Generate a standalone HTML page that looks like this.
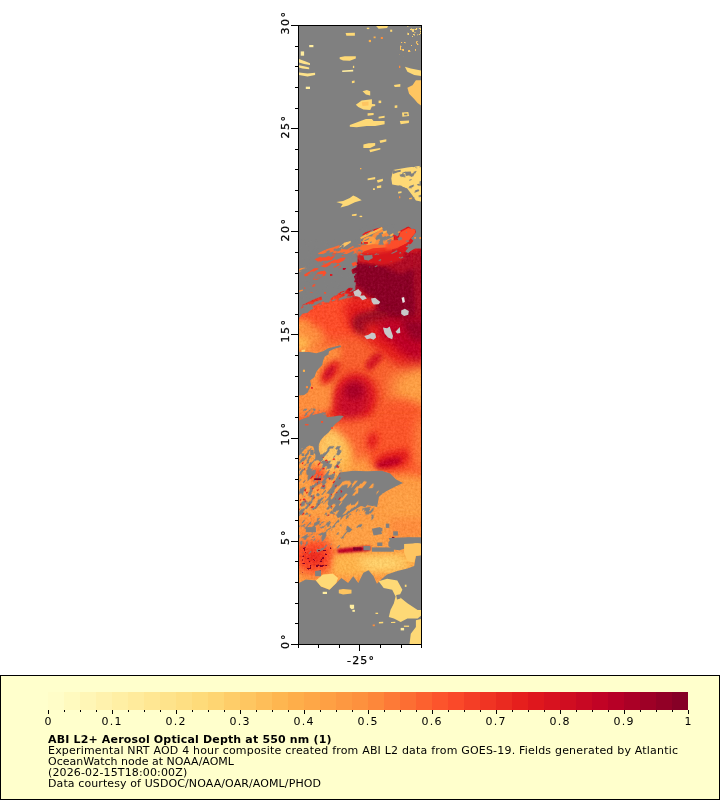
<!DOCTYPE html>
<html lang="en"><head><meta charset="utf-8"><title>ABI L2+ Aerosol Optical Depth at 550 nm</title>
<style>html,body{margin:0;padding:0;background:#fff}svg{display:block}text{font-family:"DejaVu Sans","Liberation Sans",sans-serif;font-size:11px;fill:#000}</style></head><body>
<svg width="720" height="800" viewBox="0 0 720 800">
<rect width="720" height="800" fill="#fff"/>
<g id="map">
<rect x="299" y="26" width="122" height="618" fill="#808080"/>
<defs><clipPath id="mc"><rect x="299" y="26" width="122" height="618"/></clipPath><filter id="bl1_0" x="-50%" y="-50%" width="200%" height="200%"><feGaussianBlur stdDeviation="1.0"/></filter><filter id="bl1_5" x="-50%" y="-50%" width="200%" height="200%"><feGaussianBlur stdDeviation="1.5"/></filter><filter id="bl2_0" x="-50%" y="-50%" width="200%" height="200%"><feGaussianBlur stdDeviation="2.0"/></filter><filter id="bl2_5" x="-50%" y="-50%" width="200%" height="200%"><feGaussianBlur stdDeviation="2.5"/></filter><filter id="bl3_0" x="-50%" y="-50%" width="200%" height="200%"><feGaussianBlur stdDeviation="3.0"/></filter><filter id="bl4_0" x="-50%" y="-50%" width="200%" height="200%"><feGaussianBlur stdDeviation="4.0"/></filter><filter id="bl5_0" x="-50%" y="-50%" width="200%" height="200%"><feGaussianBlur stdDeviation="5.0"/></filter><filter id="bl8_0" x="-50%" y="-50%" width="200%" height="200%"><feGaussianBlur stdDeviation="8.0"/></filter><filter id="sp0" x="0" y="0" width="100%" height="100%" color-interpolation-filters="sRGB"><feTurbulence type="fractalNoise" baseFrequency="0.12 0.3" numOctaves="2" seed="41" result="n"/><feColorMatrix in="n" type="matrix" values="0 0 0 0 0 0 0 0 0 0 0 0 0 0 0 30 0 0 0 -15" result="m"/><feComposite in="SourceGraphic" in2="m" operator="in"/></filter><filter id="sp1" x="0" y="0" width="100%" height="100%" color-interpolation-filters="sRGB"><feTurbulence type="fractalNoise" baseFrequency="0.1 0.3" numOctaves="2" seed="21" result="n"/><feColorMatrix in="n" type="matrix" values="0 0 0 0 0 0 0 0 0 0 0 0 0 0 0 30 0 0 0 -15.6" result="m"/><feComposite in="SourceGraphic" in2="m" operator="in"/></filter><filter id="sp2" x="0" y="0" width="100%" height="100%" color-interpolation-filters="sRGB"><feTurbulence type="fractalNoise" baseFrequency="0.15 0.3" numOctaves="2" seed="22" result="n"/><feColorMatrix in="n" type="matrix" values="0 0 0 0 0 0 0 0 0 0 0 0 0 0 0 30 0 0 0 -20.4" result="m"/><feComposite in="SourceGraphic" in2="m" operator="in"/></filter><filter id="sp3" x="0" y="0" width="100%" height="100%" color-interpolation-filters="sRGB"><feTurbulence type="fractalNoise" baseFrequency="0.15 0.3" numOctaves="2" seed="2" result="n"/><feColorMatrix in="n" type="matrix" values="0 0 0 0 0 0 0 0 0 0 0 0 0 0 0 30 0 0 0 -18" result="m"/><feComposite in="SourceGraphic" in2="m" operator="in"/></filter><filter id="sp4" x="0" y="0" width="100%" height="100%" color-interpolation-filters="sRGB"><feTurbulence type="fractalNoise" baseFrequency="0.06 0.25" numOctaves="2" seed="7" result="n"/><feColorMatrix in="n" type="matrix" values="0 0 0 0 0 0 0 0 0 0 0 0 0 0 0 30 0 0 0 -17.4" result="m"/><feComposite in="SourceGraphic" in2="m" operator="in"/></filter><filter id="sp5" x="0" y="0" width="100%" height="100%" color-interpolation-filters="sRGB"><feTurbulence type="fractalNoise" baseFrequency="0.11 0.3" numOctaves="2" seed="3" result="n"/><feColorMatrix in="n" type="matrix" values="0 0 0 0 0 0 0 0 0 0 0 0 0 0 0 30 0 0 0 -15.9" result="m"/><feComposite in="SourceGraphic" in2="m" operator="in"/></filter><filter id="sp6" x="0" y="0" width="100%" height="100%" color-interpolation-filters="sRGB"><feTurbulence type="fractalNoise" baseFrequency="0.12 0.3" numOctaves="2" seed="13" result="n"/><feColorMatrix in="n" type="matrix" values="0 0 0 0 0 0 0 0 0 0 0 0 0 0 0 30 0 0 0 -18.6" result="m"/><feComposite in="SourceGraphic" in2="m" operator="in"/></filter><filter id="sp7" x="0" y="0" width="100%" height="100%" color-interpolation-filters="sRGB"><feTurbulence type="fractalNoise" baseFrequency="0.25 0.35" numOctaves="2" seed="11" result="n"/><feColorMatrix in="n" type="matrix" values="0 0 0 0 0 0 0 0 0 0 0 0 0 0 0 30 0 0 0 -21" result="m"/><feComposite in="SourceGraphic" in2="m" operator="in"/></filter><filter id="sp8" x="0" y="0" width="100%" height="100%" color-interpolation-filters="sRGB"><feTurbulence type="fractalNoise" baseFrequency="0.12 0.3" numOctaves="2" seed="9" result="n"/><feColorMatrix in="n" type="matrix" values="0 0 0 0 0 0 0 0 0 0 0 0 0 0 0 30 0 0 0 -17.4" result="m"/><feComposite in="SourceGraphic" in2="m" operator="in"/></filter><filter id="sp9" x="0" y="0" width="100%" height="100%" color-interpolation-filters="sRGB"><feTurbulence type="fractalNoise" baseFrequency="0.25 0.4" numOctaves="2" seed="8" result="n"/><feColorMatrix in="n" type="matrix" values="0 0 0 0 0 0 0 0 0 0 0 0 0 0 0 30 0 0 0 -19.8" result="m"/><feComposite in="SourceGraphic" in2="m" operator="in"/></filter><filter id="sp10" x="0" y="0" width="100%" height="100%" color-interpolation-filters="sRGB"><feTurbulence type="fractalNoise" baseFrequency="0.25 0.25" numOctaves="2" seed="6" result="n"/><feColorMatrix in="n" type="matrix" values="0 0 0 0 0 0 0 0 0 0 0 0 0 0 0 30 0 0 0 -18.6" result="m"/><feComposite in="SourceGraphic" in2="m" operator="in"/></filter><filter id="sp11" x="0" y="0" width="100%" height="100%" color-interpolation-filters="sRGB"><feTurbulence type="fractalNoise" baseFrequency="0.25 0.25" numOctaves="2" seed="12" result="n"/><feColorMatrix in="n" type="matrix" values="0 0 0 0 0 0 0 0 0 0 0 0 0 0 0 30 0 0 0 -19.2" result="m"/><feComposite in="SourceGraphic" in2="m" operator="in"/></filter><filter id="sp12" x="0" y="0" width="100%" height="100%" color-interpolation-filters="sRGB"><feTurbulence type="fractalNoise" baseFrequency="0.12 0.25" numOctaves="2" seed="31" result="n"/><feColorMatrix in="n" type="matrix" values="0 0 0 0 0 0 0 0 0 0 0 0 0 0 0 30 0 0 0 -18" result="m"/><feComposite in="SourceGraphic" in2="m" operator="in"/></filter><filter id="grain" x="0" y="0" width="100%" height="100%" color-interpolation-filters="sRGB"><feTurbulence type="fractalNoise" baseFrequency="0.45" numOctaves="2" seed="17" result="n"/><feColorMatrix in="n" type="matrix" values="1 0 0 0 0 1 0 0 0 0 1 0 0 0 0 0 0 0 0 1" result="g"/><feComposite in="SourceGraphic" in2="g" operator="arithmetic" k1="0" k2="1" k3="0.14" k4="-0.07" result="c"/><feComposite in="c" in2="SourceAlpha" operator="in"/></filter></defs>
<g clip-path="url(#mc)">
<g filter="url(#grain)">
<rect fill="#e31a1c" x="288.8" y="209.7" width="142.4" height="155.9"/>
<polygon fill="#b00a28" filter="url(#bl3_0)" points="371.9,250.3 393.9,240.2 427.8,240.2 427.8,355.4 393.9,355.4 380.3,331.7 349.8,331.7 349.8,260.5"/>
<polygon fill="#8a0026" filter="url(#bl2_0)" points="355.8,263 370.2,262.2 380.3,263.9 390.5,269.8 400.7,274.1 410.8,269.8 424.4,263.9 424.4,285.9 418.5,301.2 421,314.7 421,338.4 407.4,341.8 400.7,331.7 393.9,324.9 380.3,325.7 370.2,329.1 358.3,325.7 354.1,330.8 349,328.3 358.3,319.8 366.8,311.3 373.6,304.6 366.8,297.8 363.4,289.3 356.6,285.9 353.2,277.4 352.9,269"/>
<polygon fill="#e31a1c" filter="url(#bl2_0)" points="354.9,302.9 366.8,298.6 373.6,300.3 374.4,306.2 370.2,310.5 363.4,312.2 354.9,312.2"/>
<polygon fill="#ae0a28" filter="url(#bl2_0)" opacity="0.8" points="412.5,252 427.8,252 427.8,348.6 415.9,348.6"/>
<polygon fill="#e31a1c" filter="url(#bl2_0)" points="378.6,250.3 393.9,241.9 410.8,233.4 417.6,230 421,230 421,250.3 407.4,252 393.9,247.8 380.3,255.4"/>
<polygon fill="#fc4e2a" filter="url(#bl2_0)" points="354.9,250.3 370.2,243.6 383.7,240.2 390.5,243.6 376.9,248.6 363.4,255.4 356.6,257.1"/>
<polygon fill="#fc4e2a" filter="url(#bl4_0)" points="292.2,309.6 315.9,301.2 341.4,294.4 354.9,301.2 348.1,318.1 339.7,335.1 343.1,358.8 292.2,358.8"/>
<polygon fill="#fd8d3c" filter="url(#bl3_0)" points="292.2,318.1 309.2,319.8 315.9,335.1 309.2,358.8 292.2,358.8"/>
<polygon fill="#feb24c" filter="url(#bl2_0)" points="292.2,324.9 303.2,325.7 304.9,338.4 292.2,343.5"/>
<polygon fill="#fc4e2a" filter="url(#bl3_0)" points="349.8,348.6 370.2,340.1 387.1,338.4 407.4,345.2 421,346.9 421,358.8 349.8,358.8"/>
<polygon fill="#fc4e2a" filter="url(#bl4_0)" points="315.9,304.6 354.9,297.8 370.2,301.2 373.6,318.1 363.4,338.4 349.8,358.8 315.9,358.8"/>
<polygon fill="#e31a1c" filter="url(#bl4_0)" points="343.1,306.2 354.9,297.8 370.2,301.2 373.6,311.3 366.8,324.9 354.9,335.1 348.1,324.9"/>
<polygon fill="#9a0828" filter="url(#bl3_0)" points="355.8,314.7 370.2,310.5 387.1,311.3 392.2,324.9 383.7,335.9 366.8,339.3 355.8,332.5 351.5,322.3"/>
<rect fill="#f75e2d" filter="url(#bl4_0)" x="288.8" y="336.8" width="142.4" height="128.8"/>
<polygon fill="#e31a1c" filter="url(#bl5_0)" points="363.4,323.2 424.4,323.2 424.4,380.8 407.4,374.1 393.9,362.2 378.6,350.3 366.8,340.2"/>
<polygon fill="#bd0026" filter="url(#bl4_0)" points="380.3,319.8 424.4,319.8 424.4,363.9 410.8,360.5 400.7,352 390.5,341.9 380.3,336.8"/>
<polygon fill="#960026" filter="url(#bl3_0)" points="400.7,319.8 424.4,319.8 424.4,341.9 410.8,338.5"/>
<ellipse fill="#fd9f44" filter="url(#bl8_0)" cx="417.6" cy="388.5" rx="27.1" ry="21.2"/>
<ellipse fill="#fd9f44" filter="url(#bl4_0)" opacity="0.7" cx="421" cy="382.5" rx="11.9" ry="11.9"/>
<polygon fill="#d41420" filter="url(#bl2_0)" points="365.1,363.9 371.9,355.4 380.3,352 382.9,358 373.6,368.1 367.6,371.5"/>
<ellipse fill="#e31a1c" filter="url(#bl5_0)" cx="353.2" cy="401.2" rx="23.7" ry="28.8" transform="rotate(20 353.2 401.2)"/>
<ellipse fill="#c8082a" filter="url(#bl4_0)" cx="353.2" cy="399.5" rx="16.1" ry="22" transform="rotate(20 353.2 399.5)"/>
<ellipse fill="#a80026" filter="url(#bl3_0)" cx="354.1" cy="391" rx="9.3" ry="8.5"/>
<polygon fill="#fd8d3c" filter="url(#bl4_0)" points="292.2,326.6 319.3,326.6 326.1,340.2 319.3,346.9 312.6,352 292.2,352"/>
<polygon fill="#feb24c" filter="url(#bl3_0)" points="292.2,335.1 307.5,336.8 309.2,350.3 292.2,352"/>
<polygon fill="#fd8d3c" filter="url(#bl3_0)" points="292.2,352 341.4,345.2 338,372.4 332.9,385.9 331.2,409.6 292.2,418.1"/>
<polygon fill="#fd8d3c" filter="url(#bl4_0)" points="292.2,431.7 332.9,424.9 343.1,455.4 292.2,455.4"/>
<polygon fill="#feb24c" filter="url(#bl3_0)" points="292.2,440.1 319.3,438.4 326.1,455.4 292.2,455.4"/>
<ellipse fill="#e31a1c" filter="url(#bl2_5)" opacity="0.85" cx="330.3" cy="372.4" rx="7.6" ry="14.4" transform="rotate(35 330.3 372.4)"/>
<ellipse fill="#c8082a" filter="url(#bl1_5)" opacity="0.8" cx="329.5" cy="372.4" rx="3.4" ry="7.6" transform="rotate(35 329.5 372.4)"/>
<ellipse fill="#f9562b" filter="url(#bl5_0)" cx="400.7" cy="421.5" rx="25.4" ry="22"/>
<ellipse fill="#e31a1c" filter="url(#bl3_0)" cx="397.3" cy="451.2" rx="8.5" ry="4.2"/>
<rect fill="#fd9a42" filter="url(#bl4_0)" x="288.8" y="443.6" width="142.4" height="122"/>
<polygon fill="#fa552b" filter="url(#bl4_0)" points="360,419.8 427.8,419.8 427.8,475.8 407.4,474.1 387.1,474.9 371.9,468.1 363.4,450.3"/>
<polygon fill="#fb6530" filter="url(#bl4_0)" points="332.9,419.8 370.2,419.8 371.9,450.3 354.9,462.2 336.3,448.6"/>
<polygon fill="#e31a1c" filter="url(#bl3_0)" points="373.6,458.8 387.1,452 407.4,448.6 410.8,458.8 400.7,467.3 383.7,469"/>
<polygon fill="#bd0026" filter="url(#bl2_0)" points="375.2,463.9 387.1,458.8 400.7,457.1 400.7,463 387.1,467.3 376.9,468.1"/>
<polygon fill="#e31a1c" filter="url(#bl3_0)" points="366.8,436.8 373.6,431.7 378.6,436.8 375.2,448.6 368.5,450.3"/>
<ellipse fill="#fd9f44" filter="url(#bl4_0)" cx="404.1" cy="509.6" rx="23.7" ry="20.3"/>
<ellipse fill="#feb24c" filter="url(#bl4_0)" cx="338" cy="455.4" rx="15.2" ry="18.6"/>
<polygon fill="#fd9f44" filter="url(#bl3_0)" points="292.2,446.9 339.7,446.9 339.7,555.4 292.2,555.4"/>
<ellipse fill="#fec561" filter="url(#bl4_0)" cx="331.2" cy="450.3" rx="13.6" ry="22"/>
<ellipse fill="#fc7838" filter="url(#bl4_0)" cx="421" cy="443.6" rx="7.6" ry="28.8"/>
<polygon fill="#fc4e2a" filter="url(#bl3_0)" points="309.2,469 322.7,467.3 326.1,480.8 314.2,484.2"/>
<polygon fill="#fc4e2a" filter="url(#bl3_0)" points="339.7,546.9 366.8,545.2 366.8,555.4 339.7,555.4"/>
<rect fill="#fd9a42" filter="url(#bl4_0)" x="288.8" y="516.9" width="142.4" height="76.3"/>
<ellipse fill="#fc4e2a" filter="url(#bl4_0)" cx="314.2" cy="555.9" rx="22" ry="18.6"/>
<ellipse fill="#e31a1c" filter="url(#bl3_0)" opacity="0.7" cx="314.2" cy="557.6" rx="10.2" ry="6.8"/>
<polygon fill="#fd8d3c" filter="url(#bl3_0)" points="299,518.6 322.7,518.6 322.7,538.9 299,540.6"/>
<polygon fill="#feb24c" filter="url(#bl3_0)" points="332.9,555 404.1,553.3 414.2,555.9 414.2,567.8 393.9,572.8 366.8,572.8 354.9,576.2 332.9,574.5"/>
<polygon fill="#fec561" filter="url(#bl3_0)" points="356.6,556.7 404.1,555 407.4,568.6 393.9,572 363.4,571.1"/>
<polygon fill="#fed976" filter="url(#bl3_0)" opacity="0.6" points="366.8,560.1 393.9,558.4 393.9,566.9 370.2,567.8"/>
<polygon fill="#fd9f44" filter="url(#bl3_0)" points="332.9,518.6 387.1,518.6 387.1,545.7 332.9,547.4"/>
<polygon fill="#bd0026" filter="url(#bl1_0)" points="337.1,549.1 349.8,547.4 370.2,545.7 370.2,550.8 349.8,552.5 338,553.3"/>
<polygon fill="#800026" points="353.2,547.4 361.7,547.4 361.7,550.5 353.2,550.5"/>
<polygon fill="#fd8d3c" filter="url(#bl3_0)" points="390.5,518.6 424.4,518.6 424.4,538.1 390.5,538.1"/>
</g>
<polygon fill="#808080" points="358.3,-43.3 423.7,-43.3 423.7,248.6 415.1,248.6 411.7,250.3 408.2,252.9 404.8,251.2 405.6,245.1 408.2,240.8 411.7,237.4 416,232.2 415.1,229.2 410.8,227.9 408.2,226.6 400.5,230.5 397.9,236.5 392.7,233.9 390.1,237.4 385.8,234.8 386.7,231.4 377.2,232.2 383.2,228.8 382.4,227.1 375.5,228.8 365.2,232.2 360,236.5 358.3,237.4"/>
<polygon fill="#808080" points="297.3,-43.3 361,-43.3 361,253.8 357.6,255.5 354.1,263.2 350.7,268.4 352.4,273.6 354.1,277 354.1,278.7 297.3,278.7"/>
<polygon fill="#808080" points="297.3,253.4 357.6,253.4 357.6,262 354.1,264.6 352.4,267.2 350.7,272.3 353.2,275.8 355,279.2 354.1,281.8 355.8,284.4 354.1,286.1 348.9,287.8 345.5,290.4 340.3,292.1 335.2,294.7 330.9,298.2 329.1,302.5 324.8,302.5 322.2,299.9 321.4,296.4 314.5,299 309.3,301.6 302.4,305.1 300.7,308.5 304.2,307.6 311.9,305.9 313.6,308.5 310.2,310.2 307.6,312.8 302.4,313.7 299,318 297.3,318.8"/>
<polygon fill="#fc6d33" points="330,249.4 338.6,246 341.2,249 347.2,249.4 352.4,246 358.4,244.3 364.4,244.3 374.8,244.3 381.7,243.4 392,240.8 392,249.4 385.1,249.4 378.2,249.4 370.5,251.2 364.4,253.8 358.4,256.3 355.8,252.9 352.4,254.6 343.8,253.8 338.6,252.9 333.4,252.9 330,252"/>
<polygon fill="#ef3423" points="357.6,256.3 364.4,251.2 373.1,248.2 381.7,247.7 392,246.9 392,255.5 381.7,255.5 374.8,259.8 371.3,263.2 367,261.5 361,259.8"/>
<polygon fill="#808080" points="358.4,258.1 364.4,255.5 370.5,256.3 370.5,259.8 364.4,261.5 359.3,260.6"/>
<polygon fill="#fd8d3c" points="361,238.2 368.8,233.5 381.7,227.9 385.1,230.5 388.6,234.8 393.7,236.5 393.7,244.3 381.7,244.3 364.4,244.7 360.1,240.8"/>
<g transform="rotate(-25 360 335)" filter="url(#sp0)"><polygon fill="#808080" transform="rotate(25 360 335)" points="360.1,227.1 393.7,227.1 393.7,244.7 360.1,244.7"/></g>
<polygon fill="#feb24c" points="360.1,237.4 367.9,233.1 374.8,230.5 381.7,227.1 383,228.3 376.5,232.2 370.5,234.8 364.4,237.4 361,239.1"/>
<polygon fill="#fd9f44" points="362.7,240 367.9,236.5 373.1,236.5 376.5,240 374.8,243.4 367.9,245.1 364.4,243.4"/>
<polygon fill="#fec561" points="338.6,247.7 344.6,242.6 350.7,240.8 350.7,242.6 345.5,246 341.2,249"/>
<polygon fill="#fc4e2a" points="330,254.6 335.2,252.9 342.1,254.6 347.2,256.3 343.8,260.6 338.6,263.2 333.4,263.2 330,261.5"/>
<polygon fill="#fc4e2a" points="333.4,264.9 338.6,263.7 341.2,266.7 336.9,268.8 333.4,267.5"/>
<polygon fill="#e31a1c" points="342.9,268 345.9,268 345.9,269.7 342.9,269.7"/>
<polygon fill="#fc4e2a" points="347.2,268.4 350.7,267.5 351.5,270.1 348.1,271"/>
<polygon fill="#fc4e2a" points="351.5,263.2 355.8,261.5 357.6,264.9 353.2,266.7"/>
<polygon fill="#feb24c" points="382.5,231.4 386.8,230.5 386.8,232.2 383.4,233.9"/>
<polygon fill="#feb24c" points="352,215 355.8,215 355.8,215.9 352,215.9"/>
<polygon fill="#feb24c" points="359.7,215.9 362.3,215.9 362.3,216.9 359.7,216.9"/>
<polygon fill="#e31a1c" points="364,242.1 367.9,242.1 367.9,243.8 364,243.8"/>
<polygon fill="#bd0026" points="330,274 332.2,274 332.2,275.7 330,275.7"/>
<polygon fill="#fc4e2a" points="391,240.8 397.9,240 400.5,232.2 408.2,227.9 415.1,229.6 415.1,233.1 410.8,238.2 406.5,243.4 397.9,247.7 391,249.4"/>
<polygon fill="#e31a1c" points="397.9,247.7 406.5,243.4 410.8,238.2 413.4,240.8 408.2,247.7 404.8,252 400.5,252.9"/>
<polygon fill="#fd8d3c" points="419.4,237 421.1,237 421.1,239.1 419.4,239.1"/>
<polygon fill="#fd8d3c" points="414.2,237 416,237 416,238.7 414.2,238.7"/>
<polygon fill="#feb24c" points="390.1,234.8 393.2,233.1 393.6,234.8 390.6,237"/>
<polygon fill="#fd8d3c" points="397.9,231.8 400.5,230.9 400.5,232.2 397.9,233.1"/>
<polygon fill="#d8161e" filter="url(#bl1_5)" points="358.3,253.8 377.2,252.9 388.4,251.2 397.9,248.2 404.8,252 402.2,259.8 392.7,263.2 381.5,265.4 370.3,263.7 358.3,261.9"/>
<polygon fill="#fc4e2a" filter="url(#bl1_0)" points="385.8,243.4 392.7,240.8 397.9,240 397.9,247.7 391,249.4 385.8,249.4"/>
<polygon fill="#808080" points="363.4,255.5 372.1,255 372.9,258.1 368.6,260.6 364.3,259.8"/>
<polygon fill="#fc6d33" points="317.9,252.9 324.8,249.4 333.4,247.3 339.5,245.1 339.5,246.9 336,249.4 331.7,252 324.8,253.8 318.8,254.2"/>
<polygon fill="#fc4e2a" points="314.5,259.3 321.4,256.3 331.7,255.5 338.6,254.6 342.1,256.3 335.2,259.8 327.4,262.4 320.5,263.2"/>
<polygon fill="#fc4e2a" points="319.7,265.8 327.4,263.2 336.9,259.8 339.5,261.5 331.7,264.9 324.8,267.5"/>
<polygon fill="#fd9f44" points="299,269.2 305.9,266.7 306.8,268 301.6,271 299,271.8"/>
<polygon fill="#fc4e2a" points="304.2,274.4 311.9,270.1 316.2,267.5 318.8,268.8 314.5,271.8 308.5,275.3 305,276.6"/>
<polygon fill="#fc4e2a" points="316.2,274.4 321.4,271 324,272.7 325.7,275.3 319.7,277"/>
<polygon fill="#fc4e2a" points="304.2,274.9 310.2,271.5 314.5,268 316.2,269.8 311.9,273.2 305.9,276.2"/>
<polygon fill="#fd8d3c" points="299,268.9 304.2,267.2 306.8,267.6 302.4,270.6 299,271.5"/>
<polygon fill="#fc4e2a" points="312.8,279.2 317.9,272.3 324.8,270.6 326.6,273.2 322.2,276.6 316.2,280.1"/>
<polygon fill="#fc4e2a" points="324,262 335.2,262 333.4,263.7 327.4,265.4 320.5,266.3"/>
<polygon fill="#fc4e2a" points="309.3,292.1 314.5,288.7 317.9,287.4 317.5,289.1 311.9,293"/>
<polygon fill="#fc4e2a" points="311.9,284.8 315.4,284 315.8,286.1 312.3,287"/>
<polygon fill="#fc4e2a" points="333.4,264.6 337.8,264.2 341.2,266.3 337.8,268.5"/>
<polygon fill="#e31a1c" points="330,274.1 332.2,274.1 332.2,275.8 330,275.8"/>
<polygon fill="#bd0026" points="342.9,268 345.9,268 345.9,269.8 342.9,269.8"/>
<polygon fill="#fd8d3c" points="299,290.4 302.9,289.6 302.9,290.8 299,292.1"/>
<polygon fill="#fc4e2a" points="304.2,287 305.9,287 305.9,288.7 304.2,288.7"/>
<polygon fill="#fc4e2a" points="307.2,285.2 309.8,284.8 309.8,286.5 307.2,287"/>
<polygon fill="#fc4e2a" points="324,292.1 326.1,292.1 326.1,293.9 324,293.9"/>
<g transform="rotate(-25 360 335)" filter="url(#sp1)"><polygon fill="#808080" transform="rotate(25 360 335)" points="299,240.4 358.3,240.4 356.6,265.8 354.9,296.3 299,309.9"/></g>
<g transform="rotate(-25 360 335)" filter="url(#sp2)"><polygon fill="#808080" transform="rotate(25 360 335)" points="356.6,225.2 417.6,225.2 407.4,259.1 366.8,270.9 356.6,265.8"/></g>
<polygon fill="#c8c8c8" points="353.2,291.8 358.3,289 361.7,292.7 360,296.9 354.9,296.1"/>
<polygon fill="#c8c8c8" points="358.3,296.1 364.2,295.2 366.8,298.6 362.5,300.3"/>
<polygon fill="#c8c8c8" points="371,298.6 375.2,297.8 380.3,302 378.6,304.2 373.6,304.6 371.9,302"/>
<polygon fill="#e8e8e8" points="401.5,297.8 404.1,296.9 404.9,302 402.7,302.9"/>
<polygon fill="#c8c8c8" points="401.2,310.5 404.9,308.8 408.8,311 408.3,314.7 404.1,315.9 401.2,313.9"/>
<polygon fill="#c8c8c8" points="382.9,327.4 387.1,328.3 389.7,326.6 393,335.9 392.2,339.3 388,337.6 384.6,333.4"/>
<polygon fill="#c8c8c8" points="395.6,331.7 399.8,326.9 400.3,333 397.3,333.4"/>
<polygon fill="#c8c8c8" points="364.2,335.9 368.5,334.7 371.9,332.5 375.2,333.4 376.1,337.6 373.6,339.8 370.2,338.4 366.8,339.3"/>
<polygon fill="#808080" points="297.3,351.6 301.6,352.1 309.3,352.1 316.2,353.3 323.1,351.2 328.3,348.2 333.4,346.9 340.3,345.2 341.2,346.9 335.2,348.6 329.1,351.2 328.3,354.6 324.8,356.4 323.1,360.7 322.2,365 318.8,368.4 316.2,371.9 314.5,377 310.2,380.5 311.1,384.8 309.3,389.1 307.6,392.5 304.2,395.1 297.3,395.5"/>
<polygon fill="#feb24c" points="302.9,369.7 305,369.7 305,371.9 302.9,371.9"/>
<polygon fill="#fd8d3c" points="305.9,386.1 308,386.1 308,388.2 305.9,388.2"/>
<polygon fill="#e31a1c" points="311.1,386.9 312.8,386.9 312.8,388.7 311.1,388.7"/>
<polygon fill="#fed976" points="301.6,349.9 305,349.5 305,351.6 301.6,351.9"/>
<polygon fill="#808080" points="297.3,421.5 302.4,418.9 307.6,417.2 314.5,414.6 321.4,412.9 327.4,417.2 333.4,416.4 339.5,415.5 343.8,415.9 339.5,420.7 335.2,424.1 331.7,428.4 328.3,432.7 324,436.2 320.5,440.5 318.8,444.8 318.8,449.9 320.5,455.1 323.1,459.4 320.5,462 316.2,458.6 314.5,451.7 313.6,446.5 309.3,445.6 304.2,448.2 299,449.1 297.3,449.1"/>
<polygon fill="#808080" points="310.2,449.9 313.6,449.9 313.6,455.1 310.2,455.1"/>
<polygon fill="#808080" points="301.6,453.4 304.2,453.4 304.2,456 301.6,456"/>
<polygon fill="#fc4e2a" points="305,424.1 308.5,424.1 308.5,425.4 305,425.4"/>
<polygon fill="#fc4e2a" points="330.9,427.1 333,427.1 333,428.8 330.9,428.8"/>
<polygon fill="#fc4e2a" points="321,421.1 323.1,421.1 323.1,422.8 321,422.8"/>
<g transform="rotate(-40 360 335)" filter="url(#sp3)"><polygon fill="#808080" transform="rotate(40 360 335)" points="299,408.6 324.8,408.6 326.6,417.2 299,421.5"/></g>
<polygon fill="#808080" points="339.7,472.4 353.2,470.7 366.8,471.2 381.5,470.8 390.2,473.4 396.1,479.5 403,482.9 394.4,487.1 385.8,491.5 379,496.6 377.1,506.9 373.6,506.2 363.4,504.6 354.9,509.6 346.4,514.7 338,518.1 332.9,511.3 327.8,504.6 329.5,494.4 332.9,484.2"/>
<g transform="rotate(-50 360 335)" filter="url(#sp4)"><polygon fill="#fd9f44" transform="rotate(50 360 335)" points="329.5,480.8 370.2,480.8 383.7,494.4 373.6,507.9 338,519.8 326.1,504.6"/></g>
<g transform="rotate(-50 360 335)" filter="url(#sp5)"><polygon fill="#808080" transform="rotate(50 360 335)" points="297.3,446.1 341.4,446.1 341.4,472.4 332.9,484.2 327.8,504.6 338,518.1 354.9,509.6 373.6,506.2 373.6,514.7 297.3,514.7"/></g>
<g transform="rotate(-50 360 335)" filter="url(#sp6)"><polygon fill="#808080" transform="rotate(50 360 335)" points="297.3,514.7 373.6,514.7 373.6,521.5 349.8,535.1 332.9,553.7 297.3,553.7"/></g>
<g transform="rotate(-50 360 335)" filter="url(#sp7)"><polygon fill="#e31a1c" transform="rotate(50 360 335)" points="297.3,455.4 341.4,455.4 343.1,514.7 297.3,518.1"/></g>
<polygon fill="#800026" points="314.2,478.3 321,478.3 321,480 314.2,480"/>
<polygon fill="#808080" points="358.3,488.3 377.2,488.3 376.4,495.2 378.1,500.3 373.8,505.5 368.6,503.8 365.2,507.2 360,505.5 358.3,505.5"/>
<polygon fill="#808080" points="375.5,527.9 382.4,527.9 382.4,531.3 375.5,531.3"/>
<polygon fill="#808080" points="385.8,523.6 389.3,523.6 389.3,527.9 385.8,527.9"/>
<polygon fill="#808080" points="393.2,531.3 397.9,531.3 397.9,535.6 393.2,535.6"/>
<polygon fill="#808080" points="388.4,541.7 394.4,538.2 401.3,539.1 408.2,537.4 415.1,538.2 422,539.9 422,543.4 415.1,543.4 408.2,545.1 404.8,548.6 399.6,550.3 392.7,549.4 388.4,546"/>
<polygon fill="#fed976" points="404.8,548.6 408.2,545.1 415.1,543.4 422,543.4 422,552 404.8,552"/>
<polygon fill="#800026" points="391.9,536.9 394.4,536.9 394.4,538.7 391.9,538.7"/>
<polygon fill="#808080" points="363.4,546 370.3,546 370.3,550.3 363.4,550.3"/>
<polygon fill="#808080" points="377.2,542.5 382.4,542.5 382.4,546 377.2,546"/>
<polygon fill="#808080" points="297.3,583.8 305.8,579.6 315.9,580.5 321,586.4 329.5,589.8 336.3,583 341.4,577.9 348.1,583 353.2,576.2 358.3,583 363.4,572.8 368.5,570.3 373.6,576.2 376.9,583.8 382,578.8 387.1,574.5 397.3,571.1 407.4,568.6 414.2,566.1 415.9,555.9 422.7,555 422.7,647.4 297.3,647.4"/>
<polygon fill="#808080" points="388.8,538.1 407.4,537.2 422.7,537.2 422.7,544 407.4,538.9 404.1,544 390.5,543.2"/>
<polygon fill="#fec561" points="404.1,544 417.6,543.2 422.7,544.9 422.7,555 415.9,555.9 414.2,562.7 407.4,561 404.1,552.5"/>
<polygon fill="#fed976" points="315.9,580.5 322.7,574.5 332.9,573.7 338,577.9 336.3,583 329.5,589.8 321,586.4"/>
<polygon fill="#fed976" points="378.6,581.3 387.1,578.8 397.3,580.5 402.4,589.8 399,596.6 407.4,603.3 417.6,610.1 422.7,610.1 422.7,614.3 417.6,618.6 407.4,618.6 400.7,622 393.9,618.6 388.8,616.9 390.5,610.1 393.9,603.3 395.6,596.6 392.2,589.8 383.7,588.1"/>
<polygon fill="#fed976" points="409.1,647.4 410.8,633.8 415.9,627.1 415.9,620.3 422.7,618.6 422.7,647.4"/>
<polygon fill="#ffeda0" points="349.8,604.7 354.1,604.7 354.1,608.4 351.5,609.3 349.8,607.6"/>
<polygon fill="#fec561" points="338.8,589.8 343.1,588.9 351.5,589.8 351.5,593.5 343.1,594.5 338.8,593.2"/>
<polygon fill="#ffeda0" points="400.7,627.9 404.1,627.9 404.1,630.4 400.7,630.4"/>
<polygon fill="#fd8d3c" points="372.7,624.5 374.9,624.5 374.9,626.2 372.7,626.2"/>
<polygon fill="#ffeda0" points="322.7,591.8 327,591.8 327,594 322.7,594"/>
<polygon fill="#ffeda0" points="352.4,609.8 354.9,609.8 354.9,611.8 352.4,611.8"/>
<g transform="rotate(-30 360 335)" filter="url(#sp8)"><polygon fill="#808080" transform="rotate(30 360 335)" points="297.3,520.3 332.9,520.3 326.1,542.3 297.3,545.7"/></g>
<polygon fill="#808080" points="305.8,527.1 315.9,527.1 315.9,532.2 305.8,532.2"/>
<polygon fill="#808080" points="371.9,528.8 380.3,527.1 382,533.9 373.6,535.6"/>
<polygon fill="#808080" points="371.9,547.4 393.9,547.4 393.9,551.7 371.9,551.7"/>
<g transform="rotate(0 360 335)" filter="url(#sp9)"><polygon fill="#800026" transform="rotate(-0 360 335)" points="302.4,547.4 332.9,547.4 332.9,572.8 302.4,572.8"/></g>
<polygon fill="#808080" points="315.1,571.1 321,570.3 321,576.2 315.1,576.2"/>
<polygon fill="#fed976" points="345.6,33.1 354.9,32.8 354.9,35.8 346.4,35.8"/>
<polygon fill="#fed976" points="339.7,57.3 344.8,56.2 355.8,56.2 355.8,58.5 349.8,60.7 343.1,60.4 339.7,59"/>
<polygon fill="#ffeda0" points="342.2,70.4 353.2,69.7 353.2,71.4 342.2,72.1"/>
<polygon fill="#fee38b" points="299,59 305.8,61.6 310,63.3 310,65 304.1,64.1 299,62.4"/>
<polygon fill="#fee38b" points="299,65.3 304.1,66.3 309.2,67.5 309.2,69.2 302.4,68.4 299,67.5"/>
<polygon fill="#fee38b" points="299,72.6 307.5,73.4 315.1,72.8 315.1,75.1 307.5,76.5 299,75.1"/>
<polygon fill="#ffeda0" points="300.7,51.4 304.1,51.4 304.1,55.7 300.7,55.7"/>
<polygon fill="#ffeda0" points="309.2,45 313.4,45 313.4,47.2 309.2,47.2"/>
<polygon fill="#ffeda0" points="305.8,86.7 310,86.7 310,89 305.8,89"/>
<polygon fill="#fed976" points="376.1,26 388,26 387.1,28 378.6,28.7"/>
<polygon fill="#fed976" points="366.8,27.7 369.3,27.7 369.3,29.1 366.8,29.1"/>
<g transform="rotate(0 360 335)" filter="url(#sp10)"><polygon fill="#fed976" transform="rotate(-0 360 335)" points="407.4,26 421,26 421,37.9 407.4,36.2"/></g>
<g transform="rotate(0 360 335)" filter="url(#sp11)"><polygon fill="#fec561" transform="rotate(-0 360 335)" points="393.9,41.2 421,41.2 421,57.3 400.7,56.5"/></g>
<polygon fill="#feb24c" points="368.8,39.9 371,39.9 371,42.1 368.8,42.1"/>
<polygon fill="#fd8d3c" points="380.8,37 382.9,37 382.9,39 380.8,39"/>
<polygon fill="#feb24c" points="373.6,36.5 375.6,36.5 375.6,38.2 373.6,38.2"/>
<polygon fill="#fed976" points="390.2,29.7 392.2,29.7 392.2,31.8 390.2,31.8"/>
<polygon fill="#fd8d3c" points="399,65.8 400.3,65.8 400.3,68 399,68"/>
<polygon fill="#fed976" points="404.9,66.7 410.8,68.4 421,70.4 421,76 414.2,75.1 407.4,71.8"/>
<polygon fill="#fec561" points="415.9,80.2 421,80.2 421,105.6 417.6,103.1 414.2,98.9 409.1,93.8 407.4,87.8 412.5,85.3"/>
<polygon fill="#fed976" points="393.9,85 400.3,84 400.3,86.7 394.7,87"/>
<polygon fill="#fed976" points="362.5,91.2 366.8,90 370.2,91.2 370.2,95.5 365.9,94.6"/>
<polygon fill="#fed976" points="355.8,104.8 361.7,100.6 371.9,99.2 371.9,103.9 375.2,104.3 375.2,106 371.9,106.5 370.2,109.9 363.4,109.4 358.3,107"/>
<polygon fill="#fec561" points="361.7,102.2 368.5,101.4 368.5,105.6 362.5,106"/>
<polygon fill="#fed976" points="349.8,125.1 356.6,122.6 365.9,118.9 371.9,118.9 373.6,120.9 384.6,120.9 384.6,124.3 375.2,126 366.8,126 356.6,127.3 349.8,126.8"/>
<polygon fill="#fed976" points="367.6,113.3 373.6,112.9 373.6,115 367.6,115.8"/>
<polygon fill="#fed976" points="378.6,116.7 384.6,115.8 384.6,117.8 378.6,118.5"/>
<polygon fill="#fed976" points="402,112.4 408.3,112.1 409.1,116.1 402.4,116.7"/>
<polygon fill="#808080" points="404.1,113.6 407.4,113.6 407.4,115.3 404.1,115.3"/>
<polygon fill="#fed976" points="399.8,120.9 409.1,120.5 408.8,122.9 400.7,124.3"/>
<polygon fill="#fed976" points="363.4,144.6 368.5,143.3 375.2,142.9 375.2,145.5 370.2,148 363.4,148"/>
<polygon fill="#fed976" points="379.5,140.4 386.3,139.2 386.3,141.6 380.3,142.9"/>
<polygon fill="#fed976" points="351.9,81.1 354.6,80.6 354.6,82.8 351.9,83.3"/>
<polygon fill="#fed976" points="352.9,65.8 354.2,65.8 354.2,68 352.9,68"/>
<polygon fill="#fed976" points="394.7,105.6 397.3,105.3 397.3,107.7 394.7,108"/>
<polygon fill="#fed976" points="378.6,100.6 381.2,100.6 381.2,103.1 378.6,103.1"/>
<polygon fill="#fed976" points="369.3,149.7 380.3,148 380.3,149.4 370.2,152.2"/>
<polygon fill="#fed976" points="393,170 407.4,167.5 421,165.8 421,201.4 415.9,200.5 412.5,195.4 407.4,188.7 400.7,186.1 392.2,184.4 391.3,178.5"/>
<polygon fill="#808080" points="404.9,171.7 410.8,171.4 411.7,175.1 405.8,176"/>
<polygon fill="#808080" points="393.9,170.9 400.7,169.7 400.7,171.7 393.9,173.1"/>
<polygon fill="#808080" points="400.7,186.1 407.4,188.7 405.8,192.1 400.7,190.4"/>
<polygon fill="#fed976" points="367.6,178.5 375.2,177.1 375.2,179.3 367.6,180.2"/>
<polygon fill="#fed976" points="376.9,180.2 382.9,178.8 382.9,181 377.8,182.7"/>
<polygon fill="#fed976" points="376.9,186.1 381.2,185.3 381.2,187.8 376.9,188.2"/>
<polygon fill="#fed976" points="373,188.2 374.9,188.2 374.9,189.9 373,189.9"/>
<polygon fill="#fed976" points="336.3,201.9 343.1,200.9 349.8,198 353.2,195.4 356.6,197.1 361.7,200.2 354.9,202.2 348.1,205.6 340.5,207.6 342.7,203.9"/>
<polygon fill="#fed976" points="351.9,214.4 356.6,213.7 356.6,215.4 351.9,215.8"/>
<polygon fill="#fed976" points="359.7,215.8 362,215.8 362,217.1 359.7,217.1"/>
<polygon fill="#feb24c" points="360,168 361.4,168 361.4,169.3 360,169.3"/>
<polygon fill="#fd8d3c" points="399,196.3 400.3,196.3 400.3,198.3 399,198.3"/>
<polygon fill="#feb24c" points="409.1,198 412.2,197.6 412.2,199.2 409.1,199.2"/>
<polygon fill="#fed976" points="398.1,191.7 401.5,191.2 401.5,192.9 398.1,193.4"/>
<polygon fill="#fed976" points="375.5,612.7 378.1,612.7 378.1,614 375.5,614"/>
<polygon fill="#fed976" points="378.9,621.9 383.2,621.8 383.2,623.3 378.9,623.5"/>
<polygon fill="#fed976" points="391,621.9 395.3,621.8 395.3,623 391,623"/>
<polygon fill="#fed976" points="403.9,625.6 409.1,625.6 409.1,626.9 403.9,626.9"/>
<polygon fill="#fed976" points="404.8,584.7 406.5,584.7 406.5,586.9 404.8,586.9"/>
<polygon fill="#808080" points="396.2,595.1 400.5,594.2 400.5,598.5 397,599.4"/>
<g transform="rotate(-20 360 335)" filter="url(#sp12)"><polygon fill="#808080" transform="rotate(20 360 335)" points="391,165.5 422,162.9 422,203.4 411.7,201.7 403.1,188.8 391,186.2"/></g>
<polygon fill="#808080" points="392.7,165.5 398.8,165.5 408.2,164.2 413.4,167.2 422,162.9 422,158.6 392.7,158.6"/>
</g>
</g>
<g fill="#000" shape-rendering="crispEdges">
<rect x="298" y="25" width="124" height="1"/><rect x="298" y="644" width="124" height="1"/><rect x="298" y="25" width="1" height="620"/><rect x="421" y="25" width="1" height="620"/>
<rect x="291" y="644" width="7" height="1"/><rect x="295" y="623" width="3" height="1"/><rect x="295" y="603" width="3" height="1"/><rect x="295" y="582" width="3" height="1"/><rect x="295" y="561" width="3" height="1"/><rect x="291" y="541" width="7" height="1"/><rect x="295" y="520" width="3" height="1"/><rect x="295" y="500" width="3" height="1"/><rect x="295" y="479" width="3" height="1"/><rect x="295" y="458" width="3" height="1"/><rect x="291" y="438" width="7" height="1"/><rect x="295" y="417" width="3" height="1"/><rect x="295" y="396" width="3" height="1"/><rect x="295" y="376" width="3" height="1"/><rect x="295" y="355" width="3" height="1"/><rect x="291" y="334" width="7" height="1"/><rect x="295" y="314" width="3" height="1"/><rect x="295" y="293" width="3" height="1"/><rect x="295" y="273" width="3" height="1"/><rect x="295" y="252" width="3" height="1"/><rect x="291" y="231" width="7" height="1"/><rect x="295" y="211" width="3" height="1"/><rect x="295" y="190" width="3" height="1"/><rect x="295" y="169" width="3" height="1"/><rect x="295" y="149" width="3" height="1"/><rect x="291" y="128" width="7" height="1"/><rect x="295" y="108" width="3" height="1"/><rect x="295" y="87" width="3" height="1"/><rect x="295" y="66" width="3" height="1"/><rect x="295" y="46" width="3" height="1"/><rect x="291" y="25" width="7" height="1"/>
<rect x="298" y="645" width="1" height="3"/><rect x="318" y="645" width="1" height="3"/><rect x="339" y="645" width="1" height="3"/><rect x="359" y="645" width="1" height="6"/><rect x="380" y="645" width="1" height="3"/><rect x="401" y="645" width="1" height="3"/><rect x="421" y="645" width="1" height="3"/>
</g>
<g font-size="12" stroke="#000" stroke-width="0.25">
<text transform="translate(289,649) rotate(-90)" font-size="13" textLength="14.5">0°</text><text transform="translate(289,545) rotate(-90)" font-size="13" textLength="14.5">5°</text><text transform="translate(289,445.5) rotate(-90)" font-size="13" textLength="22.5">10°</text><text transform="translate(289,342.5) rotate(-90)" font-size="13" textLength="22.5">15°</text><text transform="translate(289,241.5) rotate(-90)" font-size="13" textLength="22.5">20°</text><text transform="translate(289,138.5) rotate(-90)" font-size="13" textLength="22.5">25°</text><text transform="translate(289,34.5) rotate(-90)" font-size="13" textLength="22.5">30°</text>
<text x="360.5" y="664" text-anchor="middle" font-size="13" textLength="27">-25°</text>
</g>
<rect x="0.5" y="675.5" width="719" height="124" fill="#ffffcc" stroke="#000" stroke-width="1"/>
<g shape-rendering="crispEdges">
<rect x="48" y="692" width="16" height="18" fill="#fffdc8"/><rect x="64" y="692" width="16" height="18" fill="#fffabf"/><rect x="80" y="692" width="16" height="18" fill="#fff6b6"/><rect x="96" y="692" width="16" height="18" fill="#fff2ad"/><rect x="112" y="692" width="16" height="18" fill="#ffefa4"/><rect x="128" y="692" width="16" height="18" fill="#ffeb9c"/><rect x="144" y="692" width="16" height="18" fill="#ffe793"/><rect x="160" y="692" width="16" height="18" fill="#fee38b"/><rect x="176" y="692" width="16" height="18" fill="#fedf83"/><rect x="192" y="692" width="16" height="18" fill="#fedb7a"/><rect x="208" y="692" width="16" height="18" fill="#fed572"/><rect x="224" y="692" width="16" height="18" fill="#fecd69"/><rect x="240" y="692" width="16" height="18" fill="#fec661"/><rect x="256" y="692" width="16" height="18" fill="#febe59"/><rect x="272" y="692" width="16" height="18" fill="#feb650"/><rect x="288" y="692" width="16" height="18" fill="#feae4a"/><rect x="304" y="692" width="16" height="18" fill="#fea747"/><rect x="320" y="692" width="16" height="18" fill="#fea044"/><rect x="336" y="692" width="16" height="18" fill="#fd9841"/><rect x="352" y="692" width="16" height="18" fill="#fd913e"/><rect x="368" y="692" width="16" height="18" fill="#fd873a"/><rect x="384" y="692" width="16" height="18" fill="#fd7a37"/><rect x="400" y="692" width="16" height="18" fill="#fc6e33"/><rect x="416" y="692" width="16" height="18" fill="#fc612f"/><rect x="432" y="692" width="16" height="18" fill="#fc542c"/><rect x="448" y="692" width="16" height="18" fill="#fa4929"/><rect x="464" y="692" width="16" height="18" fill="#f43e26"/><rect x="480" y="692" width="16" height="18" fill="#f03423"/><rect x="496" y="692" width="16" height="18" fill="#ea2a20"/><rect x="512" y="692" width="16" height="18" fill="#e61f1d"/><rect x="528" y="692" width="16" height="18" fill="#df171d"/><rect x="544" y="692" width="16" height="18" fill="#d8121f"/><rect x="560" y="692" width="16" height="18" fill="#d00d21"/><rect x="576" y="692" width="16" height="18" fill="#c80823"/><rect x="592" y="692" width="16" height="18" fill="#c10325"/><rect x="608" y="692" width="16" height="18" fill="#b70026"/><rect x="624" y="692" width="16" height="18" fill="#ab0026"/><rect x="640" y="692" width="16" height="18" fill="#9e0026"/><rect x="656" y="692" width="16" height="18" fill="#920026"/><rect x="672" y="692" width="16" height="18" fill="#860026"/>
</g>
<g fill="#000" shape-rendering="crispEdges">
<rect x="48" y="710" width="1" height="4"/><rect x="64" y="710" width="1" height="2"/><rect x="80" y="710" width="1" height="2"/><rect x="96" y="710" width="1" height="2"/><rect x="112" y="710" width="1" height="4"/><rect x="128" y="710" width="1" height="2"/><rect x="144" y="710" width="1" height="2"/><rect x="160" y="710" width="1" height="2"/><rect x="176" y="710" width="1" height="4"/><rect x="192" y="710" width="1" height="2"/><rect x="208" y="710" width="1" height="2"/><rect x="224" y="710" width="1" height="2"/><rect x="240" y="710" width="1" height="4"/><rect x="256" y="710" width="1" height="2"/><rect x="272" y="710" width="1" height="2"/><rect x="288" y="710" width="1" height="2"/><rect x="304" y="710" width="1" height="4"/><rect x="320" y="710" width="1" height="2"/><rect x="336" y="710" width="1" height="2"/><rect x="352" y="710" width="1" height="2"/><rect x="368" y="710" width="1" height="4"/><rect x="384" y="710" width="1" height="2"/><rect x="400" y="710" width="1" height="2"/><rect x="416" y="710" width="1" height="2"/><rect x="432" y="710" width="1" height="4"/><rect x="448" y="710" width="1" height="2"/><rect x="464" y="710" width="1" height="2"/><rect x="480" y="710" width="1" height="2"/><rect x="496" y="710" width="1" height="4"/><rect x="512" y="710" width="1" height="2"/><rect x="528" y="710" width="1" height="2"/><rect x="544" y="710" width="1" height="2"/><rect x="560" y="710" width="1" height="4"/><rect x="576" y="710" width="1" height="2"/><rect x="592" y="710" width="1" height="2"/><rect x="608" y="710" width="1" height="2"/><rect x="624" y="710" width="1" height="4"/><rect x="640" y="710" width="1" height="2"/><rect x="656" y="710" width="1" height="2"/><rect x="672" y="710" width="1" height="2"/><rect x="688" y="710" width="1" height="4"/>
</g>
<g text-anchor="middle">
<text x="48" y="725" font-size="13">0</text><text x="111.5" y="725" font-size="13" textLength="20">0.1</text><text x="175.5" y="725" font-size="13" textLength="20">0.2</text><text x="239.5" y="725" font-size="13" textLength="20">0.3</text><text x="303.5" y="725" font-size="13" textLength="20">0.4</text><text x="367.5" y="725" font-size="13" textLength="20">0.5</text><text x="431.5" y="725" font-size="13" textLength="20">0.6</text><text x="495.5" y="725" font-size="13" textLength="20">0.7</text><text x="559.5" y="725" font-size="13" textLength="20">0.8</text><text x="623.5" y="725" font-size="13" textLength="20">0.9</text><text x="688" y="725" font-size="13">1</text>
</g>
<text x="48" y="743" font-weight="bold" textLength="283.5">ABI L2+ Aerosol Optical Depth at 550 nm (1)</text>
<text x="48" y="754" textLength="630">Experimental NRT AOD 4 hour composite created from ABI L2 data from GOES-19. Fields generated by Atlantic</text>
<text x="48" y="765" textLength="186">OceanWatch node at NOAA/AOML</text>
<text x="48" y="776" textLength="139.2">(2026-02-15T18:00:00Z)</text>
<text x="48" y="787" textLength="273">Data courtesy of USDOC/NOAA/OAR/AOML/PHOD</text>
</svg>
</body></html>
